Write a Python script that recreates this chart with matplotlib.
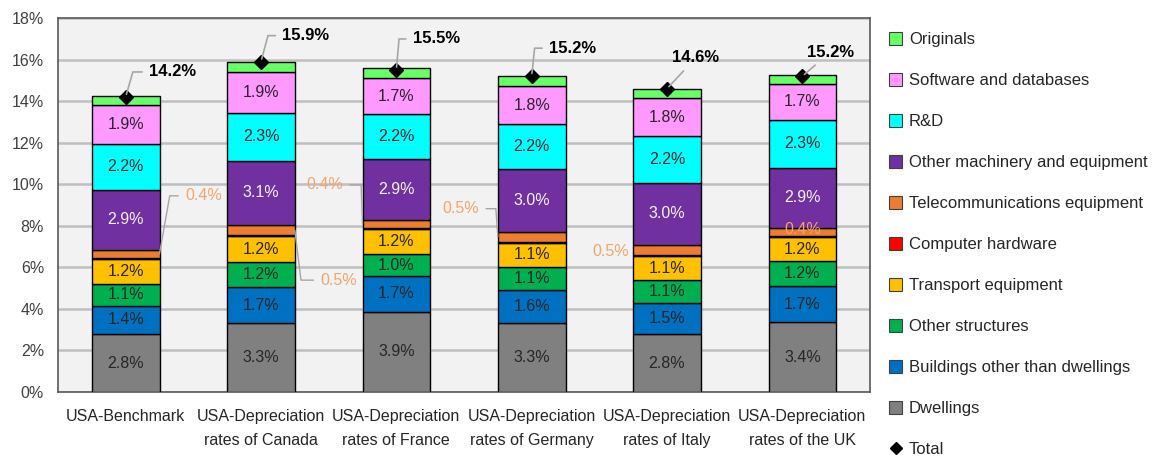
import matplotlib
matplotlib.use("Agg")
import matplotlib.pyplot as plt
from matplotlib.patches import Patch
from matplotlib.lines import Line2D
import numpy as np

plt.rcParams['font.family'] = ['Liberation Sans', 'DejaVu Sans']

categories = ["USA-Benchmark", "USA-Depreciation\nrates of Canada", "USA-Depreciation\nrates of France",
              "USA-Depreciation\nrates of Germany", "USA-Depreciation\nrates of Italy",
              "USA-Depreciation\nrates of the UK"]

# values in %
dwellings = [2.78, 3.33, 3.86, 3.31, 2.78, 3.36]
buildings = [1.38, 1.70, 1.73, 1.62, 1.49, 1.74]
other_structures = [1.05, 1.23, 1.04, 1.09, 1.12, 1.19]
transport = [1.20, 1.24, 1.20, 1.15, 1.14, 1.18]
computer = [0.05, 0.05, 0.05, 0.07, 0.08, 0.05]
telecom = [0.38, 0.48, 0.42, 0.47, 0.47, 0.38]
other_machinery = [2.90, 3.10, 2.90, 3.02, 3.00, 2.90]
rnd = [2.20, 2.31, 2.17, 2.16, 2.25, 2.30]
software = [1.88, 1.94, 1.72, 1.84, 1.80, 1.72]
originals = [0.45, 0.50, 0.48, 0.48, 0.45, 0.45]
totals = [14.2, 15.9, 15.5, 15.2, 14.6, 15.2]

series = [
    ("Dwellings", dwellings, "#808080"),
    ("Buildings other than dwellings", buildings, "#0070C0"),
    ("Other structures", other_structures, "#00B050"),
    ("Transport equipment", transport, "#FFC000"),
    ("Computer hardware", computer, "#FF0000"),
    ("Telecommunications equipment", telecom, "#ED7D31"),
    ("Other machinery and equipment", other_machinery, "#7030A0"),
    ("R&D", rnd, "#00FFFF"),
    ("Software and databases", software, "#FF99FF"),
    ("Originals", originals, "#66FF66"),
]
labelled = {"Dwellings", "Buildings other than dwellings", "Other structures", "Transport equipment",
            "Other machinery and equipment", "R&D", "Software and databases"}

fig = plt.figure(figsize=(11.59, 4.58), dpi=100)
ax = fig.add_axes([58/1159, 1-392/458, (870-58)/1159, (392-18)/458])
ax.set_facecolor("#F2F2F2")

x = np.arange(len(categories))
width = 0.5
bottom = np.zeros(len(categories))
tops = {}
for name, vals, col in series:
    v = np.array(vals) / 100.0
    ax.bar(x, v, width, bottom=bottom, color=col, edgecolor="black", linewidth=1.0, zorder=3)
    if name in labelled:
        for i in range(len(x)):
            tc = "#F2F2F2" if name == "Other machinery and equipment" else "#262626"
            ax.text(x[i], bottom[i] + v[i] / 2, f"{vals[i]:.1f}%",
                    ha="center", va="center", fontsize=11.5, color=tc, zorder=5)
    tops[name] = (bottom.copy(), v.copy())
    bottom = bottom + v

# Telecom labels
tel_b, tel_v = tops["Telecommunications equipment"]
tel_labels = ["0.4%", "0.5%", "0.4%", "0.5%", "0.5%", "0.4%"]
orange_txt = "#F4A56A"
lead_col = "#A6A6A6"
tel_cfg = [
    (+1, (44, 58), 80),
    (+1, (44, -50), 97),
    (-1, (-38, 39), 92),
    (-1, (-37, 28), 94),
    (-1, (-22, -2), None),
    (0, (0, 2), None),
]
for i, (side, off, angB) in enumerate(tel_cfg):
    px = x[i] + side * width / 2
    py = tel_b[i] + tel_v[i] / 2
    if angB is not None:
        ax.annotate(tel_labels[i], xy=(px, py), xytext=off, textcoords="offset pixels",
                    ha="center", va="center", fontsize=11.5, color=orange_txt, zorder=6,
                    arrowprops=dict(arrowstyle="-", color=lead_col, lw=1.0, shrinkA=3, shrinkB=0,
                                    connectionstyle=f"angle,angleA=0,angleB={angB},rad=0"))
    else:
        ax.annotate(tel_labels[i], xy=(px, py), xytext=off, textcoords="offset pixels",
                    ha="center", va="center", fontsize=11.5, color=orange_txt, zorder=6)

# Totals
tot = np.array(totals) / 100.0
ax.plot(x, tot, linestyle="none", marker="D", color="black", markersize=7, zorder=7)
tot_cfg = [
    ((47, 25), 74),
    ((45, 26), 75),
    ((40, 31), 85),
    ((41, 28), 84),
    ((29, 31), None),
    ((28, 24), None),
]
for i, (off, angB) in enumerate(tot_cfg):
    cs = f"angle,angleA=0,angleB={angB},rad=0" if angB is not None else "arc3"
    ax.annotate(f"{totals[i]:.1f}%", xy=(x[i], tot[i]), xytext=off, textcoords="offset pixels",
                ha="center", va="center", fontsize=12, fontweight="bold", color="black", zorder=8,
                arrowprops=dict(arrowstyle="-", color=lead_col, lw=1.2, shrinkA=3, shrinkB=2,
                                connectionstyle=cs))

ax.set_xlim(-0.5, len(categories) - 0.5)
ax.set_ylim(0, 0.18)
yt = np.arange(0, 0.181, 0.02)
ax.set_yticks(yt)
ax.set_yticklabels([f"{int(round(t*100))}%" for t in yt], fontsize=11.5, color="#404040")
ax.set_xticks(x)
ax.set_xticklabels(categories, fontsize=11.5, color="#262626", linespacing=1.75)
ax.tick_params(axis="x", length=0, pad=12)
ax.tick_params(axis="y", length=0, pad=10)
ax.yaxis.grid(True, color="#BFBFBF", linewidth=1.8, zorder=0)
ax.set_axisbelow(True)
for s in ax.spines.values():
    s.set_color("#595959")
    s.set_linewidth(1.2)

# Legend
handles = []
labels = []
for name, vals, col in reversed(series):
    handles.append(Patch(facecolor=col, edgecolor="#404040", linewidth=0.8))
    labels.append(name)
handles.append(Line2D([], [], linestyle="none", marker="D", color="black", markersize=6))
labels.append("Total")
fig.legend(handles, labels, loc="upper left", bbox_to_anchor=(874/1159, 1-17/458), frameon=False,
           fontsize=12, labelspacing=1.55, handlelength=0.8, handleheight=0.8, handletextpad=0.4,
           labelcolor="#262626")

fig.savefig("out.png", dpi=100)
